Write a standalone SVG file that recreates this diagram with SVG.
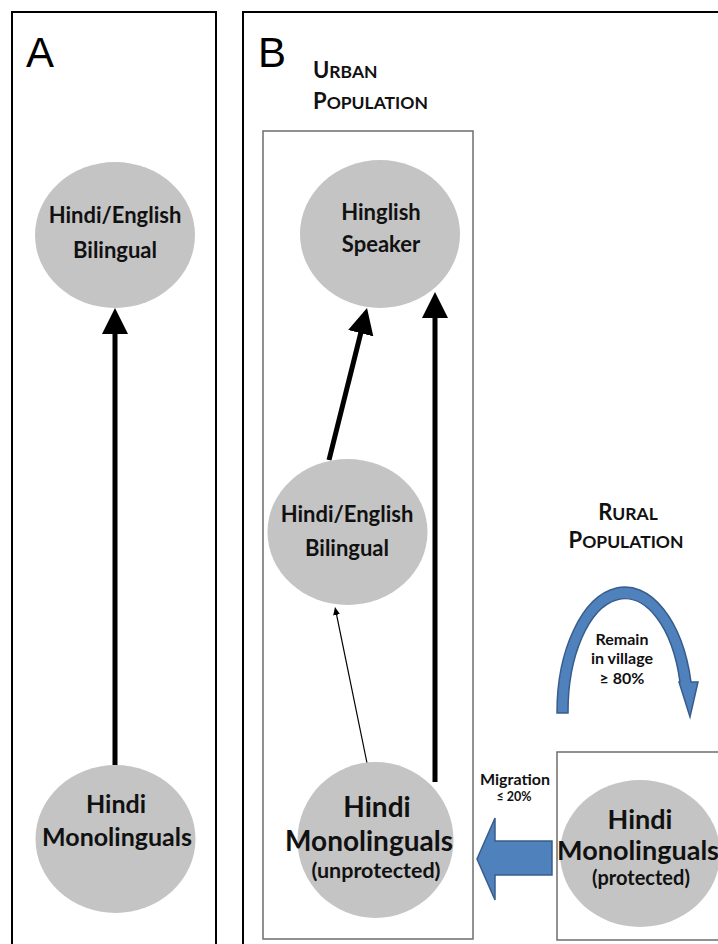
<svg xmlns="http://www.w3.org/2000/svg" width="718" height="944" viewBox="0 0 718 944">
<style>
.frame{fill:none;stroke:#000;stroke-width:2}
.box{fill:none;stroke:#6e6e6e;stroke-width:1.5}
.node{fill:#c4c4c4}
.lbl{font-family:Lato,"Liberation Sans",sans-serif;font-weight:bold;fill:#111;text-anchor:middle}
.big{font-family:"Liberation Sans",Arial,sans-serif;font-size:42px;fill:#000}
.thick{stroke:#000;stroke-width:5;fill:none;marker-end:url(#ah)}
.thin{stroke:#000;stroke-width:1.2;fill:none;marker-end:url(#ahs)}
.blue{fill:#4f81bd;stroke:#385d8a;stroke-width:1.5}
.cap{font-family:Lato,"Liberation Sans",sans-serif;font-weight:bold;fill:#111}
.c1{font-size:22px}
.c2{font-size:17.5px}
</style>
<defs>
<marker id="ah" markerUnits="userSpaceOnUse" markerWidth="26" markerHeight="26" refX="2" refY="13" orient="auto" viewBox="0 0 26 26"><path d="M0,0 L26,13 L0,26 z" fill="#000"/></marker>
<marker id="ahs" markerUnits="userSpaceOnUse" markerWidth="8" markerHeight="7" refX="1" refY="3.5" orient="auto" viewBox="0 0 8 7"><path d="M0,0 L8,3.5 L0,7 z" fill="#000"/></marker>
</defs>
<rect width="718" height="944" fill="#fff"/>
<g id="panelA">
<path class="frame" d="M12,950 V12 H216 V950"/>
<text class="big" x="26" y="67">A</text>
</g>
<g id="panelB">
<path class="frame" d="M243,950 V12 H730"/>
<text class="big" x="258" y="67">B</text>
</g>
<g id="urban">
<rect class="box" x="263" y="131" width="210" height="808"/>
<text class="cap" x="313" y="78"><tspan class="c1">U</tspan><tspan class="c2">RBAN</tspan></text>
<text class="cap" x="313" y="109"><tspan class="c1">P</tspan><tspan class="c2">OPULATION</tspan></text>
</g>
<g id="rural">
<rect class="box" x="557" y="752" width="180" height="188"/>
<text class="cap" x="628" y="520" text-anchor="middle"><tspan class="c1">R</tspan><tspan class="c2">URAL</tspan></text>
<text class="cap" x="626" y="548" text-anchor="middle"><tspan class="c1">P</tspan><tspan class="c2">OPULATION</tspan></text>
</g>
<g id="connectors">
<line class="thick" x1="115" y1="765" x2="115" y2="332"/>
<line class="thick" x1="329" y1="460" x2="361.2" y2="331.3"/>
<line class="thick" x1="435" y1="782" x2="435" y2="316"/>
<line class="thin" x1="367" y1="763" x2="336.4" y2="613.9"/>
<path class="blue" d="M552,841 H495 V818 L477,859 L495,900 V875 H552 Z"/>
<path class="blue" d="M557,713 A68,125 0 0 1 691,682 L698,682 L690,717 L679,682 L680,682 A57,113 0 0 0 568,713 Z"/>
</g>
<g id="labels">
<text class="lbl" font-size="16" x="622" y="645">Remain</text>
<text class="lbl" font-size="16" x="622" y="664">in village</text>
<text class="lbl" font-size="16" x="622" y="684">≥ 80%</text>
<text class="lbl" font-size="16" x="515" y="785">Migration</text>
<text class="lbl" font-size="12.5" x="514" y="801">≤ 20%</text>
</g>
<g id="nodeA_bil">
<ellipse class="node" cx="115" cy="235" rx="80" ry="73"/>
<text class="lbl" font-size="22" x="115" y="223">Hindi/English</text>
<text class="lbl" font-size="22" x="115" y="258">Bilingual</text>
</g>
<g id="nodeA_mono">
<ellipse class="node" cx="115.5" cy="839" rx="80" ry="74"/>
<text class="lbl" font-size="25" x="116" y="813">Hindi</text>
<text class="lbl" font-size="25" x="117" y="846">Monolinguals</text>
</g>
<g id="nodeB_hing">
<ellipse class="node" cx="380" cy="234" rx="80" ry="74"/>
<text class="lbl" font-size="22" x="381" y="220">Hinglish</text>
<text class="lbl" font-size="22" x="381" y="252">Speaker</text>
</g>
<g id="nodeB_bil">
<ellipse class="node" cx="347.5" cy="532" rx="80" ry="73"/>
<text class="lbl" font-size="22" x="347" y="522">Hindi/English</text>
<text class="lbl" font-size="22" x="347" y="556">Bilingual</text>
</g>
<g id="nodeB_unprot">
<ellipse class="node" cx="375.5" cy="840" rx="78" ry="78"/>
<text class="lbl" font-size="28" x="377" y="817">Hindi</text>
<text class="lbl" font-size="28" x="369" y="851">Monolinguals</text>
<text class="lbl" font-size="21.5" x="376" y="878">(unprotected)</text>
</g>
<g id="nodeR_prot">
<ellipse class="node" cx="640" cy="853.5" rx="80" ry="73.5"/>
<text class="lbl" font-size="27" x="640" y="829">Hindi</text>
<text class="lbl" font-size="27" x="638" y="860">Monolinguals</text>
<text class="lbl" font-size="20" x="641" y="885">(protected)</text>
</g>
</svg>
